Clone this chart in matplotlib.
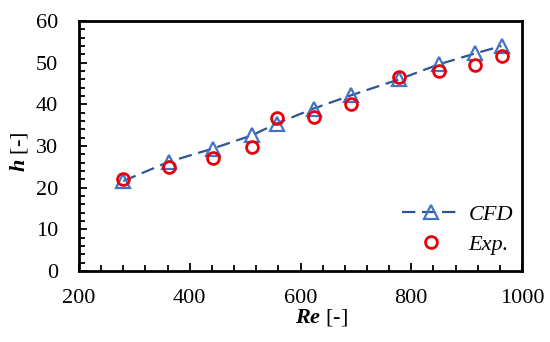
import matplotlib
matplotlib.use("Agg")
import matplotlib.pyplot as plt
from matplotlib.ticker import MultipleLocator

plt.rcParams['font.family'] = ['Liberation Serif', 'DejaVu Serif']
plt.rcParams['mathtext.fontset'] = 'custom'
plt.rcParams['mathtext.rm'] = 'Liberation Serif'
plt.rcParams['mathtext.it'] = 'Liberation Serif:italic'
plt.rcParams['mathtext.bf'] = 'Liberation Serif:bold'
plt.rcParams['mathtext.bfit'] = 'Liberation Serif:italic:bold'

re_vals = [280, 362, 442, 513, 557, 624, 692, 778, 850, 915, 963]
h_cfd = [21.6, 26.2, 29.4, 32.6, 35.4, 39.0, 42.2, 46.0, 49.6, 52.2, 54.0]
h_exp = [22.1, 25.0, 27.2, 29.8, 36.6, 36.9, 40.0, 46.6, 48.1, 49.4, 51.7]

fig = plt.figure(figsize=(5.5, 3.42), dpi=100)
ax = fig.add_axes([79/550, 1-271/342, (522-79)/550, (271-21)/342])

ax.plot(re_vals, h_cfd, linestyle=(0, (6, 3)), color='#2F5597', lw=1.6,
        marker='^', markersize=10, markerfacecolor='none',
        markeredgecolor='#4472C4', markeredgewidth=1.6, label='CFD', zorder=3)
ax.plot(re_vals, h_exp, linestyle='none', marker='o', markersize=8.5,
        markerfacecolor='none', markeredgecolor='#E8000B', markeredgewidth=2.0,
        label='Exp.', zorder=4)

ax.set_xlim(200, 1000)
ax.set_ylim(0, 60)
ax.xaxis.set_major_locator(MultipleLocator(200))
ax.xaxis.set_minor_locator(MultipleLocator(40))
ax.yaxis.set_major_locator(MultipleLocator(10))
ax.yaxis.set_minor_locator(MultipleLocator(2))
ax.tick_params(which='both', direction='in', top=False, right=False,
               labelsize=16, width=1.3)
ax.tick_params(which='major', length=6)
ax.tick_params(which='minor', length=4)
ax.tick_params(axis='x', which='major', pad=13)
ax.tick_params(axis='y', which='major', pad=15)
for s in ax.spines.values():
    s.set_linewidth(2)

ax.set_xlabel(r'$\mathbfit{Re}$ [-]', fontsize=16, labelpad=-1)
ax.set_ylabel(r'$\mathbfit{h}$ [-]', fontsize=16, labelpad=4)
ax.xaxis.label.set_x((321 - 79) / 443)
ax.yaxis.label.set_y((271 - 152) / 250)

leg = ax.legend(loc='lower right', bbox_to_anchor=(1.0, 0.03), frameon=False,
                prop={'style': 'italic', 'size': 16}, handlelength=2.6,
                handletextpad=0.4, borderaxespad=0.0, labelspacing=0.4)

fig.savefig('out.png', dpi=100)
